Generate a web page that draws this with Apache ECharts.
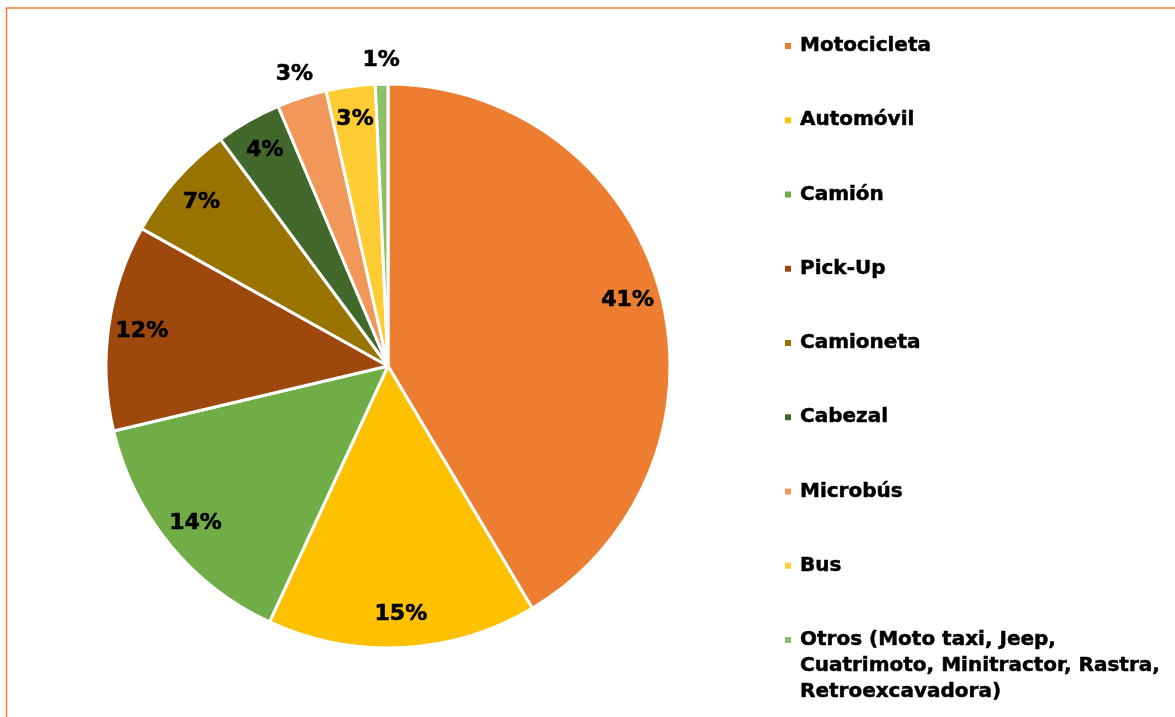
<!DOCTYPE html>
<html>
<head>
<meta charset="utf-8">
<script src="https://cdn.jsdelivr.net/npm/echarts@6/dist/echarts.min.js"></script>
<style>
  html, body { margin: 0; padding: 0; background: #fff; }
  #pieId { width: 1175px; height: 717px; }
</style>
</head>
<body>
<div id="pieId"></div>
<script>
// tipos de vehículo, en el orden del gráfico (sentido horario desde arriba)
const categories = [
  'Motocicleta',
  'Automóvil',
  'Camión',
  'Pick-Up',
  'Camioneta',
  'Cabezal',
  'Microbús',
  'Bus',
  'Otros (Moto taxi, Jeep, Cuatrimoto, Minitractor, Rastra, Retroexcavadora)'
]
// porcentaje
const shares = [41.45, 15.45, 14.40, 11.80, 6.77, 3.76, 2.85, 2.80, 0.72]
// etiquetas que van fuera del pastel
const outsideLabels = ['Microbús', 'Otros (Moto taxi, Jeep, Cuatrimoto, Minitractor, Rastra, Retroexcavadora)']

const colors = ['#ED7D31', '#FFC000', '#70AD47', '#9E480E', '#997300', '#43682B', '#F1975A', '#FFCD33', '#8CC168']

const FONT = 'DejaVu Sans'
const center = [388, 366]
const R = 282

let chart = echarts.init(document.getElementById('pieId'))

let pieData = categories.map((name, i) => ({ name: name, value: shares[i] }))

let pctText = function (p) {
  return Math.round(p.percent) + '%'
}

// capa transparente solo para las etiquetas
let labelRing = function (r0, r1, outside) {
  return {
    type: 'pie',
    center: center,
    radius: [r0, r1],
    startAngle: 90,
    silent: true,
    animation: false,
    emphasis: { disabled: true },
    itemStyle: { color: 'rgba(0,0,0,0)', borderWidth: 0 },
    labelLine: { show: false },
    data: pieData.map(d => ({
      name: d.name,
      value: d.value,
      label: { show: outsideLabels.indexOf(d.name) >= 0 ? outside : !outside }
    })),
    label: {
      position: 'inside',
      formatter: pctText,
      color: '#000',
      fontFamily: FONT,
      fontWeight: 'bold',
      fontSize: 22,
      textBorderColor: '#000',
      textBorderWidth: 0.6
    }
  }
}

let legendText = {
  color: '#000',
  fontFamily: FONT,
  fontWeight: 'bold',
  fontSize: 20,
  lineHeight: 26,
  padding: [0, 0, 0, 3],
  textBorderColor: '#000',
  textBorderWidth: 0.5
}

let option = {
  color: colors,
  animation: false,
  graphic: [
    {
      type: 'rect',
      shape: { x: 6.5, y: 8, width: 1300, height: 900 },
      style: { fill: 'none', stroke: '#ED7D31', lineWidth: 1.5 },
      silent: true
    }
  ],
  legend: [
    {
      orient: 'vertical',
      left: 783,
      top: 33,
      padding: 0,
      itemGap: 48.25,
      itemWidth: 8,
      itemHeight: 8,
      icon: 'rect',
      selectedMode: false,
      data: categories.slice(0, 8),
      textStyle: legendText
    },
    {
      // el último elemento ocupa tres líneas; dos líneas vacías arriba
      // dejan el icono a la altura de la primera
      orient: 'vertical',
      left: 783,
      top: 640 - 65,
      padding: 0,
      itemWidth: 8,
      itemHeight: 8,
      icon: 'rect',
      selectedMode: false,
      data: [categories[8]],
      formatter: function (name) {
        return '\n\n' + name.replace('Jeep, ', 'Jeep,\n').replace('Rastra, ', 'Rastra,\n')
      },
      textStyle: legendText
    }
  ],
  series: [
    {
      type: 'pie',
      center: center,
      radius: R,
      startAngle: 90,
      silent: true,
      emphasis: { disabled: true },
      itemStyle: { borderColor: '#fff', borderWidth: 3 },
      label: { show: false },
      labelLine: { show: false },
      data: pieData
    },
    labelRing(Math.round(R * 0.74), R, false),
    labelRing(R + 6, R + 36, true)
  ]
}

chart.setOption(option)
</script>
</body>
</html>
